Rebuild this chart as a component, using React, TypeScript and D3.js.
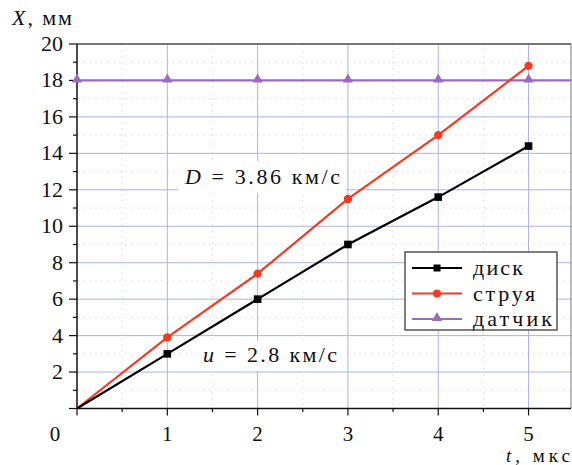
import React from "react";
import * as d3 from "d3";

const tValues = [0, 1, 2, 3, 4, 5];
const diskValues = [0, 3.0, 6.0, 9.0, 11.6, 14.4];
const jetValues = [0, 3.9, 7.4, 11.5, 15.0, 18.8];
const sensorValue = 18;
const xTicks = [1, 2, 3, 4, 5];
const yTicks = [2, 4, 6, 8, 10, 12, 14, 16, 18, 20];
const legendLabels = ["диск", "струя", "датчик"];
const legendWidths = [50, 62, 79];

const W = 572, H = 465;
const left = 77, right = 571, top = 44, bottom = 408.5;
const FONT = '"Times New Roman", "Liberation Serif", "DejaVu Serif", "Noto Serif", Times, serif';

export default function App() {
  const x = d3.scaleLinear().domain([0, 5.47]).range([left, right]);
  const y = d3.scaleLinear().domain([0, 20]).range([bottom, top]);
  const line = d3.line<[number, number]>().x(d => x(d[0])).y(d => y(d[1]));
  const disk = tValues.map((t, i) => [t, diskValues[i]] as [number, number]);
  const jet = tValues.map((t, i) => [t, jetValues[i]] as [number, number]);
  const sensor: [number, number][] = [[0, sensorValue], [5.47, sensorValue]];
  const minorX = d3.range(0.5, 5.5, 1);
  const minorY = d3.range(1, 20, 2);
  const gridColor = "#aab3e6";
  const red = "#f23b22";
  const purple = "#9b6bbd";
  const tri = d3.symbol().type(d3.symbolTriangle).size(45)()!;
  const colors = ["#000", red, purple];
  const ts: React.CSSProperties = { fontFamily: FONT, fontSize: 22 };

  return (
    <svg width={W} height={H} style={{ position: "absolute", left: 0, top: 0, fontFamily: FONT }}>
      <rect width={W} height={H} fill="#fff" />
      {minorX.map(v => (
        <line key={"mx" + v} x1={x(v)} x2={x(v)} y1={top} y2={bottom} stroke="#dcdcdc" strokeWidth={0.8} strokeDasharray="2,4" />
      ))}
      {minorY.map(v => (
        <line key={"my" + v} x1={left} x2={right} y1={y(v)} y2={y(v)} stroke="#dcdcdc" strokeWidth={0.8} strokeDasharray="2,4" />
      ))}
      {xTicks.map(v => (
        <line key={"gx" + v} x1={x(v)} x2={x(v)} y1={top} y2={bottom} stroke={gridColor} strokeWidth={1} />
      ))}
      {yTicks.map(v => (
        <line key={"gy" + v} x1={left} x2={right} y1={y(v)} y2={y(v)} stroke={gridColor} strokeWidth={1} />
      ))}
      <line x1={left} x2={right} y1={top} y2={top} stroke="#555" strokeWidth={1.5} />
      <line x1={right} x2={right} y1={top} y2={bottom} stroke="#777" strokeWidth={1} />
      <line x1={left} x2={left} y1={top} y2={bottom} stroke="#111" strokeWidth={1.5} />
      <line x1={left} x2={right} y1={bottom} y2={bottom} stroke="#111" strokeWidth={1.5} />
      {yTicks.map(v => (
        <line key={"ty" + v} x1={left - 8} x2={left} y1={y(v)} y2={y(v)} stroke="#111" strokeWidth={1.2} />
      ))}
      {minorY.map(v => (
        <line key={"tmy" + v} x1={left - 4} x2={left} y1={y(v)} y2={y(v)} stroke="#111" strokeWidth={1.2} />
      ))}
      <line x1={left - 8} x2={left} y1={bottom} y2={bottom} stroke="#111" strokeWidth={1.2} />
      {[0, ...xTicks].map(v => (
        <line key={"tx" + v} x1={x(v)} x2={x(v)} y1={bottom} y2={bottom + 7} stroke="#111" strokeWidth={1.2} />
      ))}
      {minorX.map(v => (
        <line key={"tmx" + v} x1={x(v)} x2={x(v)} y1={bottom} y2={bottom + 3.5} stroke="#111" strokeWidth={1.2} />
      ))}
      {yTicks.map(v => (
        <text key={"ly" + v} x={left - 14} y={y(v) + 7} textAnchor="end" style={ts} fill="#111">{v}</text>
      ))}
      {xTicks.map(v => (
        <text key={"lx" + v} x={x(v)} y={441} textAnchor="middle" style={{ ...ts, fontSize: 21 }} fill="#111">{v}</text>
      ))}
      <text x={55} y={441} textAnchor="middle" style={{ ...ts, fontSize: 21 }} fill="#111">0</text>
      <text x={12} y={25} style={ts} fill="#111" textLength={60} lengthAdjust="spacing"><tspan fontStyle="italic">X</tspan>, мм</text>
      <text x={506} y={462} style={{ ...ts, fontSize: 19 }} fill="#111" textLength={64} lengthAdjust="spacing"><tspan fontStyle="italic">t</tspan>, мкс</text>
      <path d={line(sensor)!} fill="none" stroke={purple} strokeWidth={2.2} />
      {tValues.map(t => (
        <path key={"st" + t} d={tri} transform={`translate(${x(t)},${y(sensorValue) - 1})`} fill={purple} />
      ))}
      <path d={line(jet)!} fill="none" stroke={red} strokeWidth={2.2} />
      {jet.slice(1).map(d => (
        <circle key={"jc" + d[0]} cx={x(d[0])} cy={y(d[1])} r={4.2} fill={red} />
      ))}
      <path d={line(disk)!} fill="none" stroke="#000" strokeWidth={2.2} />
      {disk.slice(1).map(d => (
        <rect key={"dr" + d[0]} x={x(d[0]) - 3.8} y={y(d[1]) - 3.8} width={7.6} height={7.6} fill="#000" />
      ))}
      <rect x={178} y={161} width={168} height={32} fill="#fff" />
      <text x={185} y={184} style={ts} fill="#111" textLength={155} lengthAdjust="spacing"><tspan fontStyle="italic">D</tspan> = 3.86 км/с</text>
      <rect x={197} y={341} width={146} height={30} fill="#fff" />
      <text x={203} y={362} style={ts} fill="#111" textLength={134} lengthAdjust="spacing"><tspan fontStyle="italic">u</tspan> = 2.8 км/с</text>
      <rect x={405} y={252} width={152} height={78} fill="#fff" stroke="#555" strokeWidth={1.5} />
      {legendLabels.map((lab, i) => {
        const ly = 268 + i * 25.5;
        return (
          <g key={lab}>
            <line x1={412} x2={462} y1={ly} y2={ly} stroke={colors[i]} strokeWidth={2.2} />
            {i === 0 && <rect x={433.5} y={ly - 3.5} width={7} height={7} fill="#000" />}
            {i === 1 && <circle cx={437} cy={ly} r={4} fill={red} />}
            {i === 2 && <path d={tri} transform={`translate(437,${ly - 1})`} fill={purple} />}
            <text x={473} y={ly + 7} style={ts} fill="#111" textLength={legendWidths[i]} lengthAdjust="spacing">{lab}</text>
          </g>
        );
      })}
    </svg>
  );
}
